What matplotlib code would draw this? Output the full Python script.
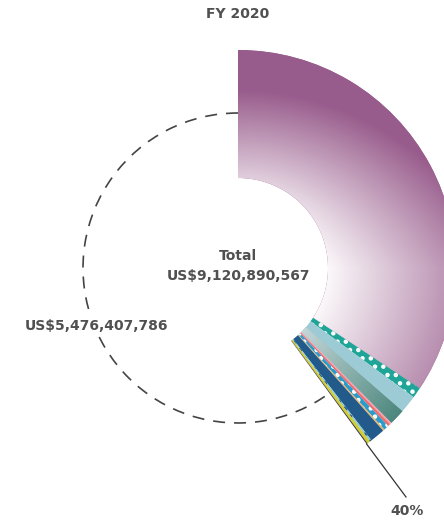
import numpy as np
import matplotlib.pyplot as plt
from matplotlib.patches import Arc
from matplotlib.colors import to_rgb

W, H = 444, 523
cx, cy = 238, 255          # ring centre, in pixels (y up)
r_out, r_in = 218, 90
r_dash = 155

total = 9120890567
unfunded = 5476407786

# funded part, US$ millions, clockwise from 12 o'clock
funded_values = [3127.7, 73.5, 119, 106.4, 12.7, 17.7, 35.5, 10.1, 101.3, 12.7, 20.3, 7.6]
funded_colors = ["#985c8c", "#1fa597", "#9ccbd6", "#6fa39c", "#f2a3b3", "#ef6b6b",
                 "#2b9bcb", "#f0b45c", "#235a8c", "#8fc9d0", "#d2cd2c", "#3a3a3a"]
funded_hatches = [None, "..", None, None, None, None, "..", None, None, "..", None, None]
hatch_colors = ["none", "white", "none", "none", "none", "none", "white", "none",
                "none", "#235a8c", "none", "none"]

plt.rcParams["hatch.linewidth"] = 2.0

fig = plt.figure(figsize=(W / 100, H / 100), dpi=100)
ax = fig.add_axes([0, 0, 1, 1])

values = funded_values + [unfunded / 1e6]
wedges, _ = ax.pie(values, colors=funded_colors + ["white"], startangle=90,
                   counterclock=False, radius=r_out, center=(cx, cy),
                   wedgeprops=dict(width=r_out - r_in, linewidth=0))

for w, h, hc in zip(wedges, funded_hatches, hatch_colors):
    if h:
        w.set_hatch(h)
        w.set_edgecolor(hc)
wedges[-1].set_visible(False)

# gradients clipped to wedges
yy, xx = np.mgrid[0:H, 0:W] + 0.5
r = np.hypot(xx - cx, yy - cy)
rn = (r - r_in) / (r_out - r_in)


def gradient(c0, c1, t):
    t = np.clip(t, 0, 1)[..., None]
    return np.array(to_rgb(c0)) * (1 - t) + np.array(to_rgb(c1)) * t


t = 0.68 * rn + 0.003 * np.clip(yy - cy, 0, None)
img = gradient("#fbf8fa", "#985c8c", t)
im = ax.imshow(img, extent=(0, W, 0, H), origin="lower", zorder=2)
im.set_clip_path(wedges[0])

img2 = gradient("#c4d6d8", "#4c877d", rn)
im2 = ax.imshow(img2, extent=(0, W, 0, H), origin="lower", zorder=2)
im2.set_clip_path(wedges[3])

# dashed outline for the unfunded part
uw = wedges[-1]
ax.add_patch(Arc((cx, cy), 2 * r_dash, 2 * r_dash, theta1=uw.theta1, theta2=uw.theta2,
                 color="#444444", lw=1.2, linestyle=(0, (7.2, 5.4)), zorder=3))

# leader line to the funded share label
a = np.deg2rad(uw.theta2)
pct = round(100 * (total - unfunded) / total)
ax.plot([cx + r_out * np.cos(a), 406], [cy + r_out * np.sin(a), 26],
        color="#333333", lw=0.9, zorder=4)

txt = dict(color="#505050", fontweight="bold", fontsize=10, ha="center", va="center")
ax.text(cx, H - 14, "FY 2020", **txt)
ax.text(cx, H - 256, "Total", **txt)
ax.text(cx, H - 276, f"US${total:,}", **txt)
ax.text(96, H - 326, f"US${unfunded:,}", zorder=5,
        bbox=dict(facecolor="white", edgecolor="none", pad=2), **txt)
ax.text(407, H - 511, f"{pct}%", **txt)

ax.set_xlim(0, W)
ax.set_ylim(0, H)
ax.set_aspect("equal")
ax.axis("off")
fig.savefig("out.png", dpi=100)
